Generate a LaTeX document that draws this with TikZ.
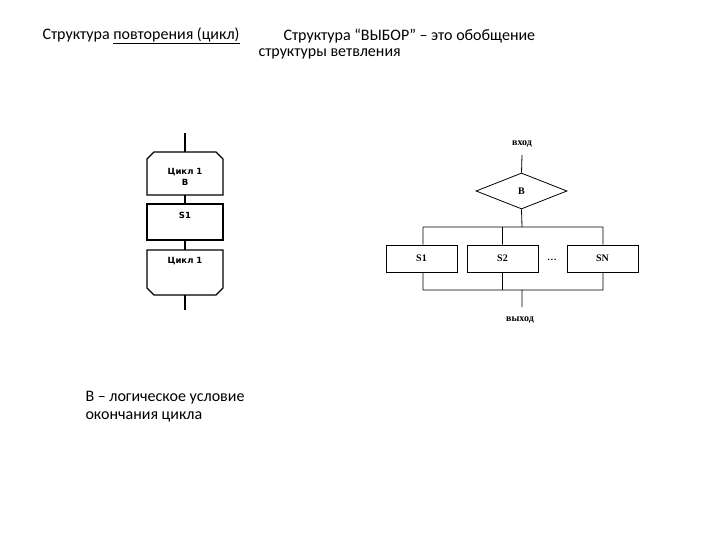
\documentclass[tikz,border=0pt]{standalone}
\usepackage{fontspec}
\setmainfont{Carlito}
\newfontfamily\dv{DejaVu Sans}
\newfontfamily\tm{Liberation Serif}
\usetikzlibrary{shapes.geometric}
\begin{document}
\begin{tikzpicture}[x=1pt,y=-1pt,line width=1pt,
  ttl/.style={anchor=west,font=\fontsize{16}{18}\selectfont,inner sep=0},
  lbox/.style={draw,line width=1.3pt},
  lt/.style={font=\dv\fontsize{8.5}{11}\selectfont\bfseries},
  rt/.style={font=\tm\fontsize{10}{11}\selectfont\bfseries},
  rbox/.style={draw,line width=0.8pt,minimum width=71pt,minimum height=27pt}]
\useasboundingbox (0,0) rectangle (720,540);
\node[ttl] (t1) at (42,36) {Структура \underline{повторения (цикл)}};
\node[ttl] (t2) at (283,36) {Структура “ВЫБОР” – это обобщение};
\node[ttl] (t3) at (258,54) {структуры ветвления};
\node[ttl,align=left] (t4) at (85,407) {В – логическое условие\\окончания цикла};
% left diagram
\coordinate (a0) at (185,133);
\coordinate (a1) at (185,152);
\draw[lbox] (147,195) -- (147,159) -- (154,152) -- (216,152) -- (223,159) -- (223,195) -- cycle;
\node[lt,align=center] (c1) at (185,177) {Цикл 1\\В};
\draw[lbox] (147,204) rectangle (223,240);
\node[lt] (s1) at (185,215) {S1};
\draw[lbox] (147,250) -- (223,250) -- (223,288) -- (216,295) -- (154,295) -- (147,288) -- cycle;
\node[lt] (c2) at (185,261) {Цикл 1};
\coordinate (b1) at (185,195); \coordinate (b2) at (185,204);
\coordinate (b3) at (185,240); \coordinate (b4) at (185,250);
\coordinate (b5) at (185,295); \coordinate (b6) at (185,310);
\draw[line width=1.3pt] (a0)--(a1) (b1)--(b2) (b3)--(b4) (b5)--(b6);
% right diagram
\node[rt] (in) at (522,144) {вход};
\node[draw,diamond,aspect=2.5,line width=0.8pt,minimum width=91pt,minimum height=36pt,inner sep=0,rt] (d) at (521.5,191) {B};
\node[rbox,rt] (r1) at (421.5,258.5) {S1};
\node[rbox,rt] (r2) at (502.5,258.5) {S2};
\node[rbox,rt] (r3) at (602.5,258.5) {SN};
\node[font=\tm\fontsize{13}{13}\selectfont] (dots) at (552,260) {...};
\node[rt] (out) at (520,320) {выход};
\coordinate (tl) at (423,227); \coordinate (tr) at (603,227);
\coordinate (bl) at (423,290); \coordinate (br) at (603,290);
\coordinate (tm) at (522,227); \coordinate (bm) at (522,290);
\coordinate (e) at (522,307); \coordinate (st) at (522,155);
\draw[line width=0.8pt] (st)--(d.north) (d.south)--(tm) (tl)--(tr)
  (tl)--(r1.north -| tl) (tr)--(r3.north -| tr) (r2.north)--(r2.north|-tl)
  (bl)--(br) (bl)--(r1.south -| bl) (br)--(r3.south -| br) (r2.south)--(r2.south|-bl)
  (bm)--(e);
\end{tikzpicture}
\end{document}
